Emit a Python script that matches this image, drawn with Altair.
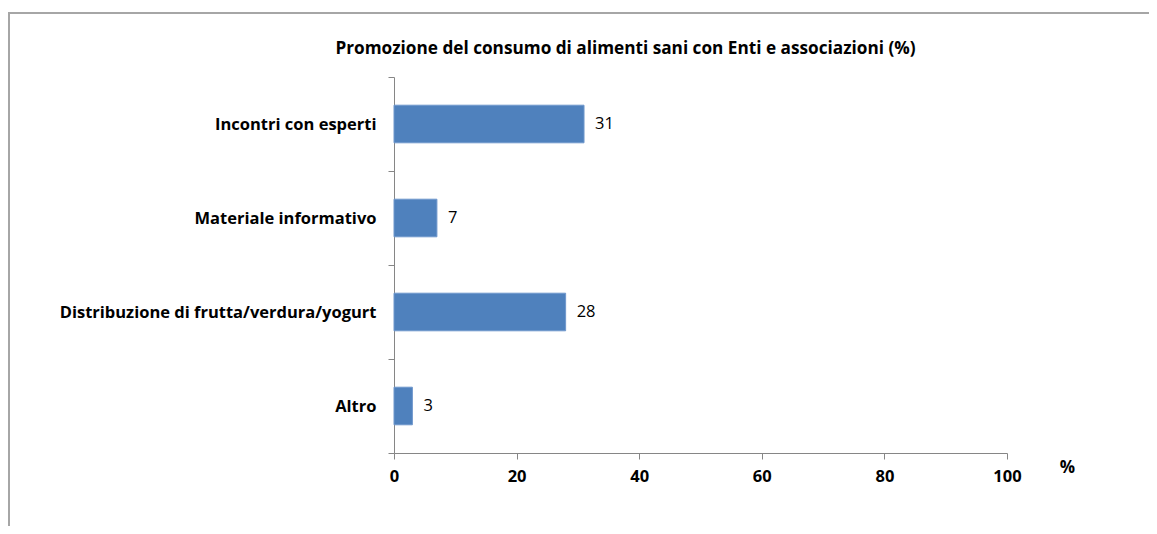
import altair as alt
import pandas as pd

categories = ["Incontri con esperti", "Materiale informativo",
              "Distribuzione di frutta/verdura/yogurt", "Altro"]
values = [31, 7, 28, 3]
x_ticks = [0, 20, 40, 60, 80, 100]

df = pd.DataFrame({"cat": categories, "val": values})

FONT = "Open Sans"
W, H = 613, 376

y_enc = alt.Y("cat:N", sort=categories, title=None,
              scale=alt.Scale(paddingInner=0, paddingOuter=0),
              axis=alt.Axis(tickBand="extent", tickSize=6, labelPadding=12,
                            labelFont=FONT, labelFontSize=16.5, labelFontWeight="bold",
                            labelColor="#000000", domainColor="#868686",
                            tickColor="#868686", labelLimit=400))
x_enc = alt.X("val:Q", title="%",
              scale=alt.Scale(domain=[0, 100], nice=False),
              axis=alt.Axis(values=x_ticks, grid=False, tickSize=6, labelPadding=9,
                            labelFlush=False,
                            labelFont=FONT, labelFontSize=16.5, labelFontWeight="bold",
                            labelColor="#000000", domainColor="#868686",
                            tickColor="#868686",
                            titleFont=FONT, titleFontSize=17, titleFontWeight="bold",
                            titleColor="#000000", titleAngle=0, titleAlign="center",
                            titleBaseline="middle", titleX=673, titleY=14))

bars = alt.Chart(df).mark_bar(color="#4F81BD", stroke="#6f97cc", strokeWidth=1,
                              height=alt.RelativeBandSize(0.4)).encode(
    x=x_enc, y=y_enc)

labels = alt.Chart(df).mark_text(align="left", baseline="middle", dx=11,
                                 font=FONT, fontSize=16.5, color="#000000").encode(
    x="val:Q", y=alt.Y("cat:N", sort=categories), text="val:Q")

border_top = alt.Chart(df).mark_rule(color="#a6a6a6", strokeWidth=2, clip=False).encode(
    x=alt.value(-386), x2=alt.value(800), y=alt.value(-64))
border_left = alt.Chart(df).mark_rule(color="#a6a6a6", strokeWidth=2, clip=False).encode(
    x=alt.value(-385), y=alt.value(-64), y2=alt.value(500))

chart = alt.layer(border_top, border_left, bars, labels).properties(
    width=W, height=H,
    autosize=alt.AutoSizeParams(type="none"),
    padding={"left": 386, "top": 69, "right": 142, "bottom": 73},
    title=alt.TitleParams("Promozione del consumo di alimenti sani con Enti e associazioni (%)",
                          font=FONT, fontSize=17.2, fontWeight="bold", color="#000000",
                          anchor="middle", dx=-75, dy=67, offset=22),
).configure_view(stroke=None)

chart.save("out.html", embed_options={"renderer": "svg", "actions": False})
